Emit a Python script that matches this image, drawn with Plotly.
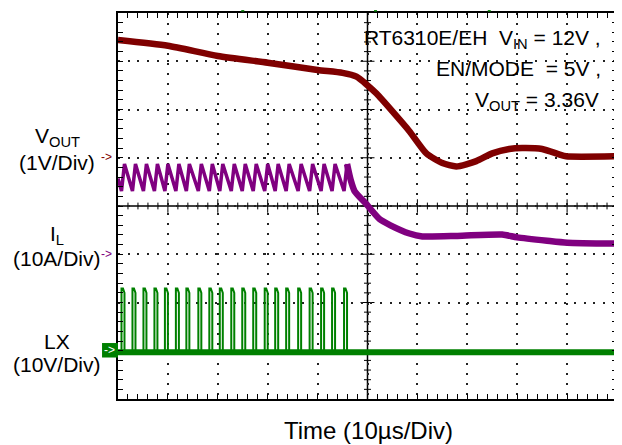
import plotly.graph_objects as go

# ---------------- data (time in µs, values in channel units) ----------------
# VOUT (1V/Div), relative to its channel marker
vout_t = [0, 10, 20, 30, 40, 45, 47.8, 49.8, 51.8, 55, 58.4, 61.8, 65, 67.8,
          71.8, 75, 78.4, 81, 85, 88.4, 89.8, 100]
vout_v = [2.44, 2.32, 2.11, 1.97, 1.82, 1.76, 1.68, 1.52, 1.33, 0.96, 0.55,
          0.09, -0.11, -0.18, -0.07, 0.09, 0.18, 0.20, 0.18, 0.07, 0.03, 0.03]

# LX switching pulses (10V/Div)
lx_pulse_t = [0.7, 2.9, 5.1, 7.3, 9.4, 11.6, 13.7, 16.1, 18.3, 20.4, 22.7,
              24.9, 27.1, 29.4, 31.5, 33.7, 36.1, 38.4, 40.7, 42.9, 45.3]
lx_on_time = 0.6
lx_high_v = 12.9
lx_high_end_v = 12.0
lx_low_v = -0.3

# IL (10A/Div): ripple during switching, then the tail after switching stops
il_start_a = 15.7
il_valley_a = 13.1
il_peak_a = 18.7
il_tail_t = [46.6, 47.4, 49.6, 52.4, 54.6, 58.4, 61, 68, 77, 80, 86, 90, 100]
il_tail_a = [15.5, 13.1, 10.6, 7.3, 6.0, 4.3, 3.7, 3.8, 4.1, 3.5, 2.8, 2.4, 2.2]

# channel reference levels (division) and scales (units per division)
VOUT_REF, VOUT_SCALE = 5, 1
IL_REF, IL_SCALE = 3, 10
LX_REF, LX_SCALE = 1, 10

def to_div(vals, ref, scale):
    return [ref + v / scale for v in vals]

# LX polyline
lx_x, lx_y = [0], [lx_low_v]
for t in lx_pulse_t:
    lx_x += [t, t, t + lx_on_time * 0.5, t + lx_on_time, t + lx_on_time]
    lx_y += [lx_low_v, lx_high_v, lx_high_v, lx_high_end_v, lx_low_v]
lx_x.append(100)
lx_y.append(lx_low_v)

# IL ripple polyline
il_x, il_y = [0], [il_start_a]
for t in lx_pulse_t:
    il_x += [t, t + lx_on_time]
    il_y += [il_valley_a, il_peak_a]
tail_x = [il_x[-1]] + il_tail_t
tail_y = [il_y[-1]] + il_tail_a

RED = "#7f0000"
PURPLE = "#800080"
GREEN = "#008000"
FONT = "Arial, Liberation Sans, sans-serif"

fig = go.Figure()
fig.add_trace(go.Scatter(x=[0, 100], y=to_div([lx_low_v, lx_low_v], LX_REF, LX_SCALE),
                         mode="lines", line=dict(color=GREEN, width=6), hoverinfo="skip"))
fig.add_trace(go.Scatter(x=lx_x, y=to_div(lx_y, LX_REF, LX_SCALE), mode="lines",
                         line=dict(color=GREEN, width=2)))
fig.add_trace(go.Scatter(x=il_x, y=to_div(il_y, IL_REF, IL_SCALE), mode="lines",
                         line=dict(color=PURPLE, width=3.5)))
fig.add_trace(go.Scatter(x=tail_x, y=to_div(tail_y, IL_REF, IL_SCALE), mode="lines",
                         line=dict(color=PURPLE, width=6.5, shape="spline", smoothing=0.6)))
fig.add_trace(go.Scatter(x=vout_t, y=to_div(vout_v, VOUT_REF, VOUT_SCALE), mode="lines",
                         line=dict(color=RED, width=6.5, shape="spline", smoothing=0.6)))

# ---------------- graticule ----------------
shapes = []
shapes.append(dict(type="line", xref="x", yref="y", x0=50, x1=50, y0=0, y1=8,
                   line=dict(color="black", width=1.5), layer="below"))
shapes.append(dict(type="line", xref="x", yref="y", x0=0, x1=100, y0=4, y1=4,
                   line=dict(color="black", width=1.5), layer="below"))
for i in range(1, 50):
    xv = i * 2
    ln = 0.14 if xv % 10 == 0 else 0.07
    shapes.append(dict(type="line", xref="x", yref="y", x0=xv, x1=xv, y0=4 - ln, y1=4 + ln,
                       line=dict(color="black", width=1), layer="below"))
for i in range(1, 40):
    yv = i * 0.2
    ln = 1.4 if i % 5 == 0 else 0.7
    shapes.append(dict(type="line", xref="x", yref="y", x0=50 - ln, x1=50 + ln, y0=yv, y1=yv,
                       line=dict(color="black", width=1), layer="below"))

# LX marker box
shapes.append(dict(type="rect", xref="paper", yref="y", x0=-0.032, x1=0, y0=0.86, y1=1.16,
                   fillcolor=GREEN, line=dict(width=0)))
# trigger marks at top
for xm in [25, 51.6, 74.4]:
    shapes.append(dict(type="rect", xref="x", yref="paper", x0=xm - 0.3, x1=xm + 0.3,
                       y0=1.0035, y1=1.0075, fillcolor=GREEN, line=dict(width=0)))

# page has an 8px body margin: figure spans page x 8..622, y 8..445
# plot area in page pixels: x 118..617, y 11..399
ann = []
def label(text, ypix, size=21, color="black", x=-0.122, xanchor="center"):
    ann.append(dict(text=text, xref="paper", yref="paper", x=x, y=(399 - ypix) / 388,
                    xanchor=xanchor, yanchor="middle", showarrow=False,
                    font=dict(family=FONT, size=size, color=color)))

label("V<sub>OUT</sub>", 136)
label("(1V/Div)", 161)
label("I<sub>L</sub>", 234)
label("(10A/Div)", 258)
label("LX", 341)
label("(10V/Div)", 364)
label("->", 156, size=12, color=RED, x=-0.008, xanchor="right")
label("->", 253, size=12, color=PURPLE, x=-0.008, xanchor="right")
label("->", 350, size=12, color="white", x=-0.003, xanchor="right")

R = (603 - 118) / 499
label("RT6310E/EH\u00a0\u00a0V<sub>IN</sub>\u00a0=\u00a012V\u00a0,", 37, size=21, x=R, xanchor="right")
label("EN/MODE\u00a0\u00a0=\u00a05V\u00a0,", 67, size=21, x=R, xanchor="right")
label("V<sub>OUT</sub>\u00a0=\u00a03.36V", 99, size=21, x=R - 0.005, xanchor="right")

label("Time (10\u00b5s/Div)", 431, size=24, x=0.503)

axis_common = dict(showline=True, linecolor="black", linewidth=2, mirror="allticks",
                   ticks="inside", ticklen=5, tickcolor="black", tickwidth=1,
                   showticklabels=False, zeroline=False, showgrid=True,
                   gridcolor="#222222", gridwidth=1.5, fixedrange=True)

fig.update_layout(
    width=614, height=437,
    margin=dict(l=110, r=5, t=3, b=46),
    paper_bgcolor="white", plot_bgcolor="white",
    showlegend=False,
    xaxis=dict(range=[0, 100], dtick=10, tick0=0, griddash="2px,8px",
               minor=dict(dtick=2, ticks="inside", ticklen=5, tickcolor="black", showgrid=False),
               **axis_common),
    yaxis=dict(range=[0, 8], dtick=1, tick0=0, griddash="2px,7.7px",
               minor=dict(dtick=0.2, ticks="inside", ticklen=5, tickcolor="black", showgrid=False),
               **axis_common),
    shapes=shapes,
    annotations=ann,
)

fig.write_html("out.html")
